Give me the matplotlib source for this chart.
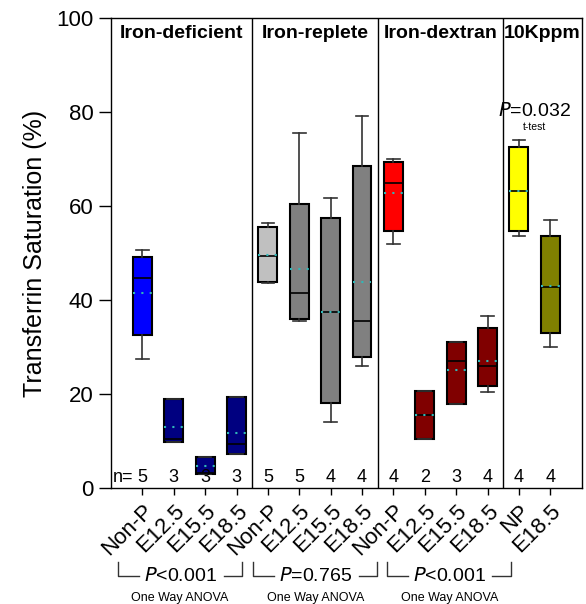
import matplotlib
matplotlib.use("Agg")
import matplotlib.pyplot as plt
import matplotlib.transforms as mtransforms

plt.rcParams['font.family'] = ['Liberation Sans', 'DejaVu Sans']

# box statistics (transferrin saturation, %)
labels = ['Non-P', 'E12.5', 'E15.5', 'E18.5',
          'Non-P', 'E12.5', 'E15.5', 'E18.5',
          'Non-P', 'E12.5', 'E15.5', 'E18.5',
          'NP', 'E18.5']
n_counts = [5, 3, 3, 3, 5, 5, 4, 4, 4, 2, 3, 4, 4, 4]
q1 = [32.6, 9.9, 3.0, 7.3, 43.8, 35.9, 18.2, 27.8, 54.7, 10.4, 17.9, 21.8, 54.6, 33.0]
q3 = [49.2, 19.0, 6.6, 19.3, 55.5, 60.4, 57.4, 68.6, 69.3, 20.6, 31.1, 34.0, 72.6, 53.7]
medians = [44.7, 10.4, 3.1, 9.3, 49.3, 41.6, 37.4, 35.5, 65.0, 15.5, 27.0, 26.0, 63.3, 42.8]
means = [41.6, 12.9, 4.7, 11.8, 49.5, 46.7, 37.4, 43.8, 62.8, 15.5, 25.1, 27.1, 63.3, 43.0]
whis_lo = [27.4, 9.9, 3.0, 7.3, 43.6, 35.6, 14.0, 26.0, 51.9, 10.4, 17.9, 20.4, 53.6, 30.1]
whis_hi = [50.6, 19.0, 6.6, 19.3, 56.5, 75.6, 61.8, 79.1, 70.0, 20.6, 31.1, 36.6, 74.0, 57.0]
box_colors = ['#0000FF', '#000080', '#000080', '#000080',
              '#C0C0C0', '#808080', '#808080', '#808080',
              '#FF0000', '#800000', '#800000', '#800000',
              '#FFFF00', '#808000']

groups = ['Iron-deficient', 'Iron-replete', 'Iron-dextran', '10Kppm']
group_edges = [0, 4.5, 8.5, 12.5, 15]
anova_p = ['$P$<0.001', '$P$=0.765', '$P$<0.001']
anova_span = [(0.22, 4.19), (4.53, 8.49), (8.81, 12.75)]

positions = list(range(1, len(labels) + 1))

fig = plt.figure(figsize=(5.86, 6.04), dpi=100)
ax = fig.add_axes([0.1894, 0.192, 0.8032, 0.778])

stats = []
for i in range(len(labels)):
    stats.append(dict(med=medians[i], q1=q1[i], q3=q3[i], whislo=whis_lo[i],
                      whishi=whis_hi[i], mean=means[i], fliers=[]))

bp = ax.bxp(stats, positions=positions, widths=0.6, patch_artist=True,
            showmeans=True, meanline=True, showfliers=False,
            boxprops=dict(edgecolor='black', linewidth=1.5),
            whiskerprops=dict(color='#333333', linewidth=1.2),
            capprops=dict(color='#333333', linewidth=1.2),
            medianprops=dict(color='black', linewidth=1.2),
            meanprops=dict(color='#30B8B8', linestyle=(0, (1, 3)), linewidth=1.5))
for patch, c in zip(bp['boxes'], box_colors):
    patch.set_facecolor(c)
for cap in bp['caps']:
    x0, x1 = cap.get_xdata()
    xc = (x0 + x1) / 2
    cap.set_xdata([xc - 0.2, xc + 0.2])

for e in group_edges[1:-1]:
    ax.axvline(e, color='black', linewidth=1)

ax.set_xlim(0, 15)
ax.set_ylim(0, 100)
ax.set_yticks([0, 20, 40, 60, 80, 100])
ax.tick_params(axis='y', labelsize=16, length=9, width=1, direction='out')
ax.tick_params(axis='x', length=5, width=1, direction='out', pad=4)
ax.set_xticks(positions)
ax.set_xticklabels(labels, rotation=45, ha='right', rotation_mode='anchor', fontsize=16)
ax.set_ylabel('Transferrin Saturation (%)', fontsize=18, labelpad=7)
for s in ax.spines.values():
    s.set_linewidth(1)

# group headings
for g, a, b in zip(groups, group_edges[:-1], group_edges[1:]):
    ax.text((a + b) / 2, 96.8, g, ha='center', va='center', fontsize=14, fontweight='bold')

# sample sizes
for p, n in zip(positions, n_counts):
    ax.text(p, 0.4, str(n), ha='center', va='bottom', fontsize=13)
ax.text(0.7, 0.4, 'n=', ha='right', va='bottom', fontsize=13)

# t-test annotation
ax.text(13.5, 80.3, '$P$=0.032', ha='center', va='center', fontsize=14)
ax.text(13.5, 76.8, 't-test', ha='center', va='center', fontsize=7.5)

# ANOVA brackets below the axis
trans = mtransforms.blended_transform_factory(ax.transData, ax.transAxes)
y_line = -0.187
y_top = -0.157
for (a, b), ptxt in zip(anova_span, anova_p):
    mid = (a + b) / 2
    ax.plot([a, a, a + 0.67], [y_top, y_line, y_line], color='#333333', lw=1,
            transform=trans, clip_on=False)
    ax.plot([b - 0.6, b, b], [y_line, y_line, y_top], color='#333333', lw=1,
            transform=trans, clip_on=False)
    ax.text(mid, y_line, ptxt, ha='center', va='center', fontsize=14, transform=trans)
    ax.text(mid, -0.234, 'One Way ANOVA', ha='center', va='center', fontsize=9,
            transform=trans)

fig.savefig('out.png', dpi=100)
